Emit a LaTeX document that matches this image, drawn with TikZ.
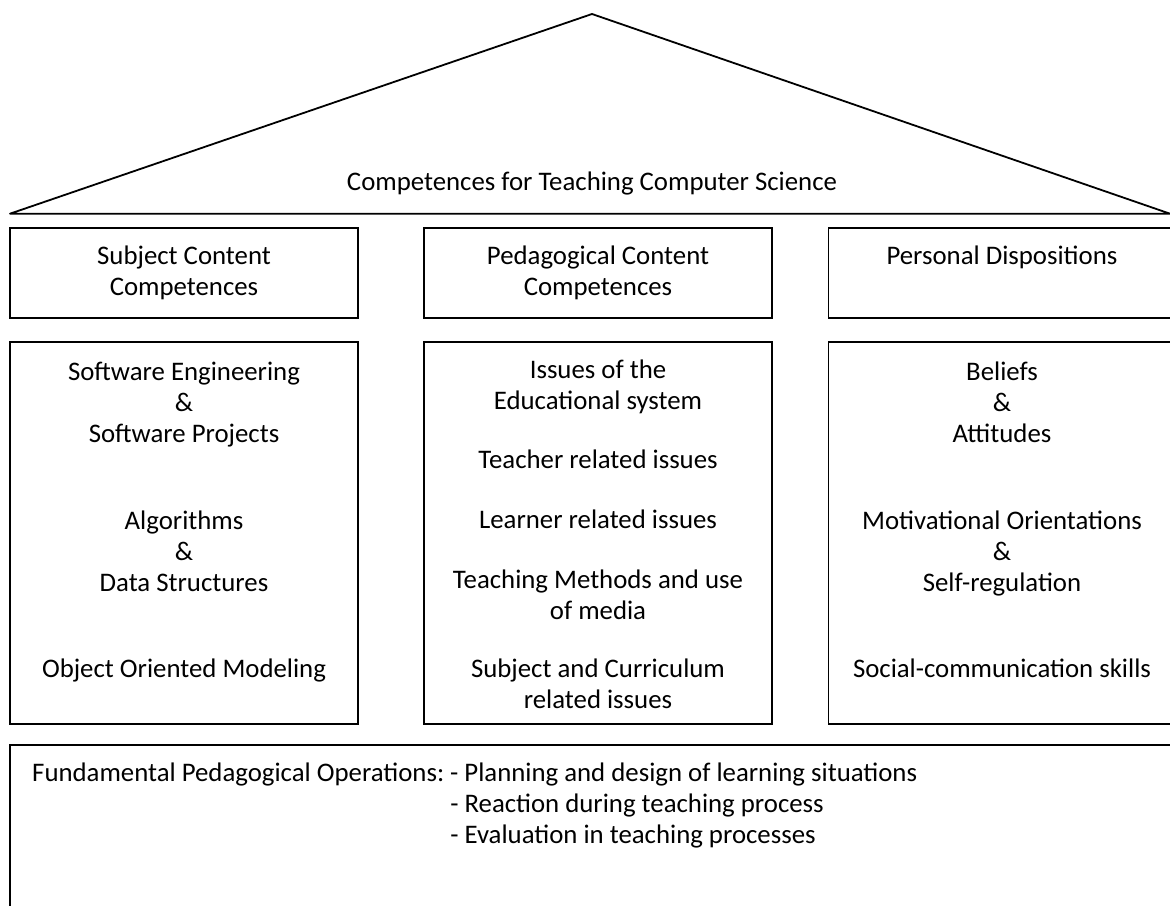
\documentclass[tikz,border=0pt]{standalone}
\usepackage{fontspec}
\setmainfont{Carlito}
\newcommand\firststrut{\rule{0pt}{21pt}}
\begin{document}
\begin{tikzpicture}[x=1pt,y=-1pt,
  box/.style={draw=black, line width=1.8pt},
  roof/.style={draw=black, line width=1.8pt, line join=round},
  txt/.style={anchor=north, align=center, inner sep=0pt, font=\fontsize{26.8}{31}\selectfont},
  txtb/.style={anchor=base, inner sep=0pt, font=\fontsize{26.8}{31}\selectfont},
  bottomtxt/.style={anchor=north west, inner sep=0pt, font=\fontsize{26.8}{31}\selectfont}]
\useasboundingbox (0,0) rectangle (1170,905);
\begin{scope}
\clip (0,0) rectangle (1170,905);
% roof
\coordinate (rl) at (10,213.7);
\coordinate (rt) at (592,14);
\coordinate (rr) at (1170,213.7);
\draw[roof] (rl) -- (rt) -- (rr) -- cycle;
\node[txtb] (title) at (592,190) {Competences for Teaching Computer Science};
% top row boxes
\draw[box] (10,227.7) rectangle (357.7,318);
\draw[box] (424,227.7) rectangle (771.7,318);
\draw[box] (828.5,227.7) rectangle (1176,318);
\node[txt] (sc) at (184,243) {\firststrut Subject Content\\Competences};
\node[txt] (pc) at (598,243) {\firststrut Pedagogical Content\\Competences};
\node[txt] (pd) at (1002,243) {\firststrut Personal Dispositions};
% second row boxes
\draw[box] (10,341.7) rectangle (357.7,724);
\draw[box] (424,341.7) rectangle (771.7,724);
\draw[box] (828.5,341.7) rectangle (1176,724);
% left contents
\node[txt] (se) at (184,359) {\firststrut Software Engineering\\\&\\Software Projects};
\node[txt] (al) at (184,508) {\firststrut Algorithms\\\&\\Data Structures};
\node[txt] (oo) at (184,656) {\firststrut Object Oriented Modeling};
% middle contents
\node[txt] (ie) at (598,357) {\firststrut Issues of the\\Educational system};
\node[txt] (tr) at (598,447) {\firststrut Teacher related issues};
\node[txt] (lr) at (598,507) {\firststrut Learner related issues};
\node[txt] (tm) at (598,567) {\firststrut Teaching Methods and use\\of media};
\node[txt] (sj) at (598,656) {\firststrut Subject and Curriculum\\related issues};
% right contents
\node[txt] (ba) at (1002,359) {\firststrut Beliefs\\\&\\Attitudes};
\node[txt] (mo) at (1002,508) {\firststrut Motivational Orientations\\\&\\Self-regulation};
\node[txt] (so) at (1002,656) {\firststrut Social-communication skills};
% bottom box
\draw[box] (10,745) rectangle (1176,925);
\node[bottomtxt] (fp) at (32,759.3) {\begin{tabular}{@{}l@{\ }l@{}}
Fundamental Pedagogical Operations: & - Planning and design of learning situations\\
 & - Reaction during teaching process\\
 & - Evaluation in teaching processes
\end{tabular}};
\end{scope}
\end{tikzpicture}
\end{document}
